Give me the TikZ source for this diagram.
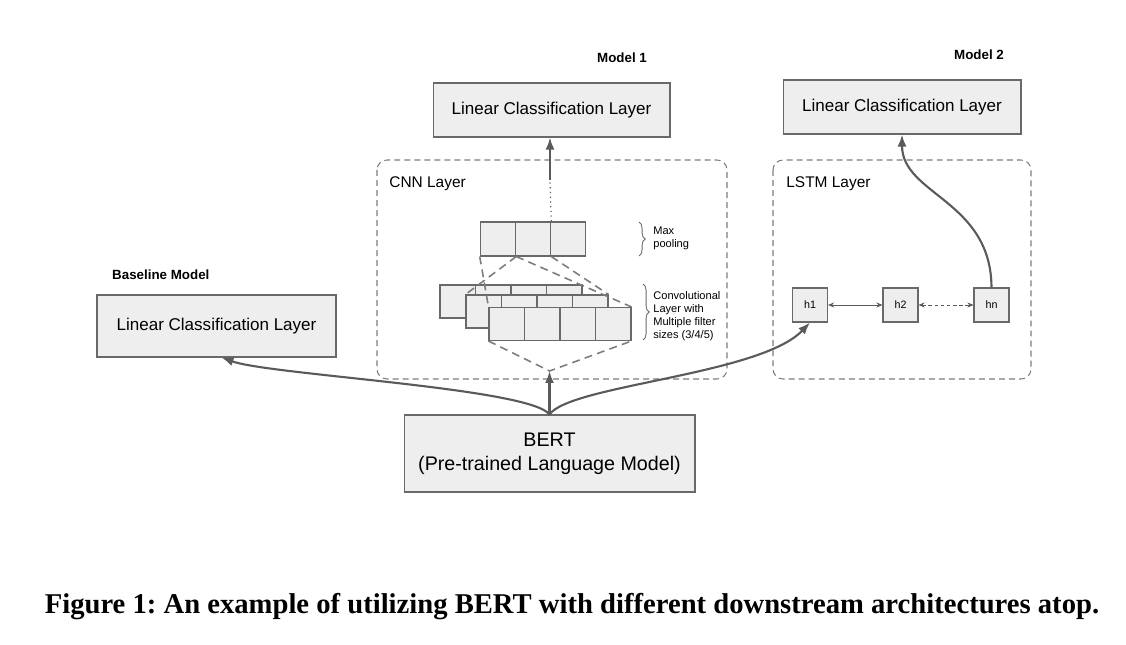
\documentclass[tikz,border=0pt]{standalone}
\usepackage{fontspec}
\setmainfont{Liberation Sans}
\newfontfamily\capfont{Liberation Serif}
\usetikzlibrary{arrows.meta,decorations.pathreplacing}
\definecolor{boxfill}{RGB}{238,238,238}
\definecolor{boxline}{RGB}{105,105,105}
\definecolor{arrowgray}{RGB}{90,90,90}
\definecolor{dashgray}{RGB}{125,125,125}
\frenchspacing
\begin{document}
\begin{tikzpicture}[x = 0.02cm, y = -0.02cm,
layerbox/.style = {draw = boxline, fill = boxfill, line width = 0.6pt, inner sep = 0pt, font = \fontsize{9.7}{11.6}\selectfont},
cell/.style = {draw = boxline, fill = boxfill, line width = 0.6pt, minimum width = 0.71cm, minimum height = 0.66cm, inner sep = 0pt},
hcell/.style = {cell, minimum width = 0.7cm, minimum height = 0.68cm, font = \fontsize{6.1}{7}\selectfont},
groupbox/.style = {draw = dashgray, line width = 0.6pt, dash pattern = on 3.4pt off 2.3pt, rounded corners = 0.2cm},
funnel/.style = {draw = dashgray, line width = 0.9pt, dash pattern = on 4.5pt off 3pt},
mainarrow/.style = {draw = arrowgray, line width = 1.2pt, -{Latex[length = 2.4mm, width = 1.8mm]}},
thinarrow/.style = {draw = arrowgray, line width = 0.5pt, {Stealth[length = 1.2mm, width = 1mm]}-{Stealth[length = 1.2mm, width = 1mm]}},
modellabel/.style = {font = \bfseries\fontsize{7.6}{9}\selectfont},
grouplabel/.style = {anchor = west, inner sep = 0pt, font = \fontsize{8.8}{10}\selectfont},
smalltext/.style = {anchor = west, inner sep = 0pt, align = left, font = \fontsize{6.3}{7.5}\selectfont}]
\useasboundingbox (0,0) rectangle (1126,645);

% classification layers
\node [layerbox, minimum width = 4.78cm, minimum height = 1.24cm] (base) at (216.5,326) {Linear Classification Layer};
\node [layerbox, minimum width = 4.74cm, minimum height = 1.08cm] (mone) at (551.5,110) {Linear Classification Layer};
\node [layerbox, minimum width = 4.76cm, minimum height = 1.08cm] (mtwo) at (902,107) {Linear Classification Layer};
\node [layerbox, minimum width = 5.82cm, minimum height = 1.54cm, align = center, font = \fontsize{11.2}{13.6}\selectfont] (bert) at (549.5,453.5) {BERT\\(Pre-trained Language Model)};

\node [modellabel, anchor = west] (baselbl) at (106,275) {Baseline Model};
\node [modellabel] (monelbl) at (622,58) {Model 1};
\node [modellabel] (mtwolbl) at (979,55) {Model 2};

% dashed groups
\draw [groupbox] (377,160) rectangle (727,379);
\draw [groupbox] (773,160) rectangle (1031,379);
\node [grouplabel] (cnnlbl) at (389,184) {CNN Layer};
\node [grouplabel] (lstmlbl) at (786,184) {LSTM Layer};

% max pooling
\foreach \i/\x in {1/498,2/533,3/568}{
\node [cell, minimum height = 0.68cm] (p\i) at (\x,239) {};
}
% conv layers, back to front
\foreach \l/\x/\y in {1/440/301.5,2/466/311.5,3/489/324}{
\foreach \i in {1,2,3,4}{
\node [cell] (c\l\i) at ({\x+35.5*\i-17.75},\y) {};
}
}
\coordinate (cnnin) at (549.5,371);
\coordinate (cnnout) at (550,180);
\draw [funnel] (p1.south west) -- (c31.north west);
\draw [funnel] (p1.south east) -- (c21.north west);
\draw [funnel] (p1.south east) -- (c34.north east);
\draw [funnel] (p2.south east) -- (c24.north east);
\draw [funnel] (c31.south west) -- (cnnin) -- (c34.south east);

\draw [draw = boxline, line width = 0.5pt, decorate, decoration = {brace, amplitude = 3.5pt}] (639,222) -- (639,256);
\draw [draw = boxline, line width = 0.5pt, decorate, decoration = {brace, amplitude = 3.5pt}] (643,284) -- (643,340);
\node [smalltext] (pooltxt) at (653,238) {Max\\pooling};
\node [smalltext] (convtxt) at (653,316) {Convolutional\\Layer with\\Multiple filter\\sizes (3/4/5)};

% lstm cells
\node [hcell] (h1) at (810,305) {h1};
\node [hcell] (h2) at (900.5,305) {h2};
\node [hcell] (hn) at (991.5,305) {hn};
\draw [thinarrow] (h1) -- (h2);
\draw [thinarrow, dash pattern = on 2pt off 1.5pt] (h2) -- (hn);

% arrows
\draw [draw = arrowgray, line width = 0.7pt, dotted] (p2.north east) -- (cnnout);
\draw [mainarrow] (cnnout) -- (cnnout |- mone.south);
\draw [mainarrow] (bert.north) -- (cnnin);
\draw [mainarrow] (bert.north) .. controls (530,388) and (270,375) .. ([xshift = 0.1cm]base.south);
\draw [mainarrow] (bert.north) .. controls (570,385) and (760,375) .. (h1.south);
\draw [mainarrow] (hn.north) .. controls (991,200) and (902,195) .. (mtwo.south);

\node [font = \capfont\bfseries\fontsize{16.3}{19}\selectfont] (caption) at (572,607) {Figure 1: An example of utilizing BERT with different downstream architectures atop.};
\end{tikzpicture}
\end{document}
